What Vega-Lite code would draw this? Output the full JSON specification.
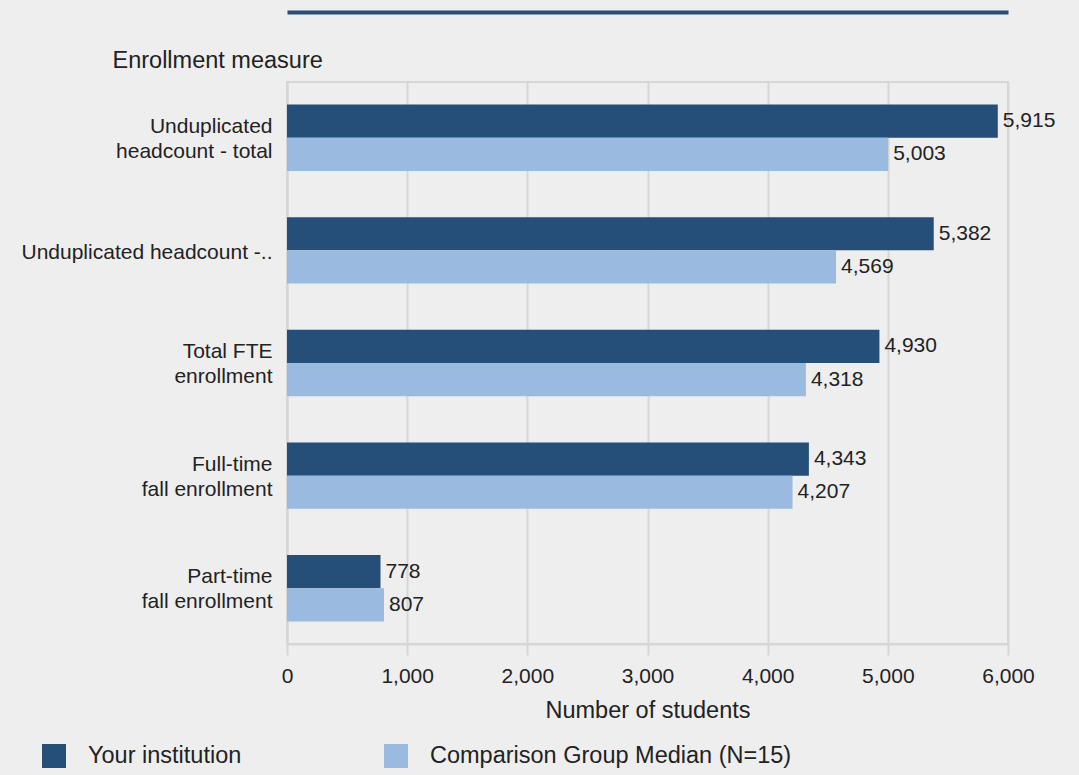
{
  "$schema": "https://vega.github.io/schema/vega-lite/v6.json",
  "width": 721,
  "height": 562,
  "autosize": {"type": "none"},
  "padding": {"left": 287, "top": 82, "right": 71, "bottom": 131},
  "background": "#eeeeee",
  "config": {
    "font": "Liberation Sans",
    "view": {"stroke": "#d6d6d6", "strokeWidth": 2}
  },
  "data": {
    "values": [
      {"measure": "Unduplicated headcount - total", "group": "Your institution", "value": 5915},
      {"measure": "Unduplicated headcount - total", "group": "Comparison Group Median (N=15)", "value": 5003},
      {"measure": "Unduplicated headcount -..", "group": "Your institution", "value": 5382},
      {"measure": "Unduplicated headcount -..", "group": "Comparison Group Median (N=15)", "value": 4569},
      {"measure": "Total FTE enrollment", "group": "Your institution", "value": 4930},
      {"measure": "Total FTE enrollment", "group": "Comparison Group Median (N=15)", "value": 4318},
      {"measure": "Full-time fall enrollment", "group": "Your institution", "value": 4343},
      {"measure": "Full-time fall enrollment", "group": "Comparison Group Median (N=15)", "value": 4207},
      {"measure": "Part-time fall enrollment", "group": "Your institution", "value": 778},
      {"measure": "Part-time fall enrollment", "group": "Comparison Group Median (N=15)", "value": 807}
    ]
  },
  "layer": [
    {
      "mark": {"type": "bar"},
      "encoding": {
        "y": {
          "field": "measure",
          "type": "nominal",
          "sort": ["Unduplicated headcount - total", "Unduplicated headcount -..", "Total FTE enrollment", "Full-time fall enrollment", "Part-time fall enrollment"],
          "scale": {"paddingInner": 0.41, "paddingOuter": 0.2},
          "axis": {
            "domainColor": "#d6d6d6",
            "domainWidth": 2,
            "ticks": false,
            "labelPadding": 15,
            "labelFontSize": 21,
            "labelColor": "#222222",
            "labelLineHeight": 25,
            "labelLimit": 300,
            "labelOffset": {"condition": {"test": "datum.value == 'Unduplicated headcount -..'", "value": 3}, "value": -11},
            "labelExpr": "datum.value == 'Unduplicated headcount - total' ? ['Unduplicated', 'headcount - total'] : datum.value == 'Total FTE enrollment' ? ['Total FTE', 'enrollment'] : datum.value == 'Full-time fall enrollment' ? ['Full-time', 'fall enrollment'] : datum.value == 'Part-time fall enrollment' ? ['Part-time', 'fall enrollment'] : datum.value",
            "title": "Enrollment measure",
            "titleAngle": 0,
            "titleX": -175,
            "titleY": -15,
            "titleAlign": "left",
            "titleBaseline": "alphabetic",
            "titleFontSize": 23.5,
            "titleFontWeight": "normal",
            "titleColor": "#222222"
          }
        },
        "yOffset": {
          "field": "group",
          "type": "nominal",
          "sort": ["Your institution", "Comparison Group Median (N=15)"],
          "scale": {"paddingInner": 0, "paddingOuter": 0}
        },
        "x": {
          "field": "value",
          "type": "quantitative",
          "scale": {"domain": [0, 6000], "nice": false},
          "axis": {
            "orient": "bottom",
            "values": [0, 1000, 2000, 3000, 4000, 5000, 6000],
            "format": ",d",
            "grid": true,
            "gridColor": "#d6d6d6",
            "gridWidth": 2,
            "domainColor": "#d6d6d6",
            "domainWidth": 2,
            "tickColor": "#d6d6d6",
            "tickWidth": 2,
            "tickSize": 11,
            "labelPadding": 10,
            "labelFontSize": 21,
            "labelColor": "#222222",
            "labelFlush": false,
            "title": "Number of students",
            "titleFontSize": 23.5,
            "titleFontWeight": "normal",
            "titleColor": "#222222",
            "titleY": 73,
            "titleBaseline": "alphabetic"
          }
        },
        "color": {
          "field": "group",
          "type": "nominal",
          "scale": {
            "domain": ["Your institution", "Comparison Group Median (N=15)"],
            "range": ["#254e79", "#9bbadf"]
          },
          "legend": {
            "orient": "none",
            "legendX": -245,
            "legendY": 662,
            "direction": "horizontal",
            "title": null,
            "symbolType": "square",
            "symbolSize": 576,
            "symbolStrokeWidth": 0,
            "symbolOpacity": 1,
            "labelFontSize": 23.5,
            "labelColor": "#222222",
            "labelOffset": 22,
            "labelLimit": 500,
            "columnPadding": 142
          }
        }
      }
    },
    {
      "mark": {"type": "text", "align": "left", "baseline": "middle", "dx": 5, "fontSize": 21, "color": "#222222"},
      "encoding": {
        "y": {
          "field": "measure",
          "type": "nominal",
          "sort": ["Unduplicated headcount - total", "Unduplicated headcount -..", "Total FTE enrollment", "Full-time fall enrollment", "Part-time fall enrollment"]
        },
        "yOffset": {
          "field": "group",
          "type": "nominal",
          "sort": ["Your institution", "Comparison Group Median (N=15)"]
        },
        "x": {
          "field": "value",
          "type": "quantitative",
          "axis": {
            "orient": "top",
            "offset": 70,
            "domainColor": "#254e79",
            "domainWidth": 4,
            "labels": false,
            "ticks": false,
            "grid": false,
            "title": null
          }
        },
        "text": {"field": "value", "type": "quantitative", "format": ",d"}
      }
    }
  ],
  "resolve": {"axis": {"x": "independent"}}
}
